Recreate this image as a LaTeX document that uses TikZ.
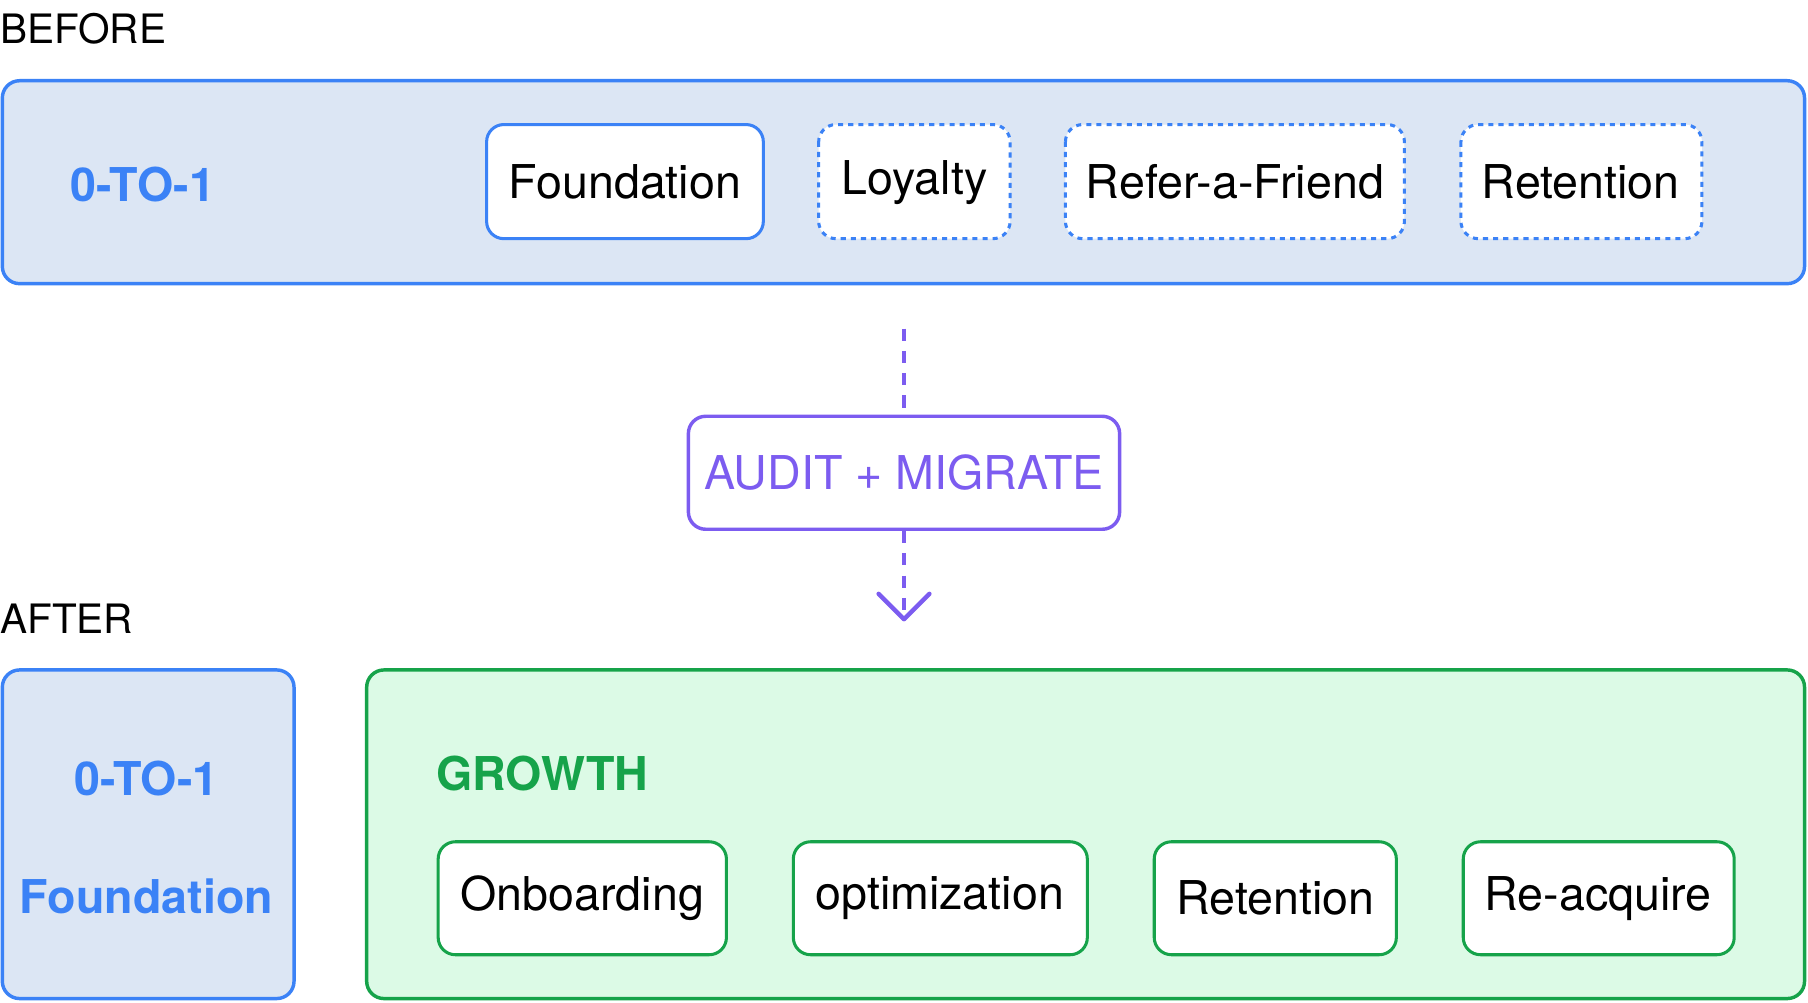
\documentclass[tikz,border=0pt]{standalone}
\usepackage{fontspec}
\setmainfont{TeX Gyre Heros}
\usetikzlibrary{arrows.meta}
\definecolor{bl}{HTML}{3B82F6}
\definecolor{blf}{HTML}{DCE6F4}
\definecolor{gr}{HTML}{16A34A}
\definecolor{grf}{HTML}{DCFAE6}
\definecolor{pu}{HTML}{7C5CF0}
\begin{document}
\begin{tikzpicture}[x=0.02cm,y=-0.02cm,
  panel/.style={rounded corners=0.3cm,line width=1.7pt},
  item/.style={rounded corners=0.3cm,line width=1.5pt,fill=white},
  lbl/.style={font=\fontsize{23}{26}\selectfont},
  head/.style={font=\fontsize{23}{26}\selectfont\bfseries},
  tag/.style={font=\fontsize{20}{24}\selectfont,anchor=west,inner sep=0pt}]
\useasboundingbox (0,0) rectangle (1568,869);
\node[tag] (before) at (0,25) {BEFORE};
\draw[panel,draw=bl,fill=blf] (2,70) rectangle (1565,246);
\node[head,text=bl] (t1) at (124,160) {0-TO-1};
\draw[item,draw=bl] (422,108) rectangle (662,207);
\node[lbl] (f) at (542,158) {Foundation};
\draw[item,draw=bl,dash pattern=on 2.5pt off 2.5pt] (710,108) rectangle (876,207);
\node[lbl] (l) at (793,158) {Loyalty};
\draw[item,draw=bl,dash pattern=on 2.5pt off 2.5pt] (924,108) rectangle (1218,207);
\node[lbl] (r) at (1071,158) {Refer-a-Friend};
\draw[item,draw=bl,dash pattern=on 2.5pt off 2.5pt] (1267,108) rectangle (1476,207);
\node[lbl] (rt) at (1371,158) {Retention};
\coordinate (s) at (784,285);
\coordinate (e) at (784,537);
\node[draw=pu,line width=1.7pt,rounded corners=0.3cm,minimum width=374*0.02cm,minimum height=98*0.02cm,fill=white,text=pu,lbl] (am) at (784,410) {AUDIT + MIGRATE};
\draw[pu,line width=2.2pt,dash pattern=on 6pt off 5pt] (s) -- (am.north);
\draw[pu,line width=2.2pt,dash pattern=on 6pt off 5pt] (am.south) -- (e);
\draw[pu,line width=2.2pt,line cap=round,line join=round] (762,515) -- (e) -- (806,515);
\node[tag] (after) at (0,537) {AFTER};
\draw[panel,draw=bl,fill=blf] (2,581) rectangle (255,866);
\node[head,text=bl] (t2) at (127,675) {0-TO-1};
\node[head,text=bl] (f2) at (127,777) {Foundation};
\draw[panel,draw=gr,fill=grf] (318,581) rectangle (1565,866);
\node[head,text=gr,anchor=west,inner sep=0pt] (g) at (378,671) {GROWTH};
\draw[item,draw=gr] (380,730) rectangle (630,828);
\node[lbl] (o1) at (505,779) {Onboarding};
\draw[item,draw=gr] (688,730) rectangle (943,828);
\node[lbl] (o2) at (815,779) {optimization};
\draw[item,draw=gr] (1001,730) rectangle (1211,828);
\node[lbl] (o3) at (1106,779) {Retention};
\draw[item,draw=gr] (1269,730) rectangle (1504,828);
\node[lbl] (o4) at (1386,779) {Re-acquire};
\end{tikzpicture}
\end{document}
